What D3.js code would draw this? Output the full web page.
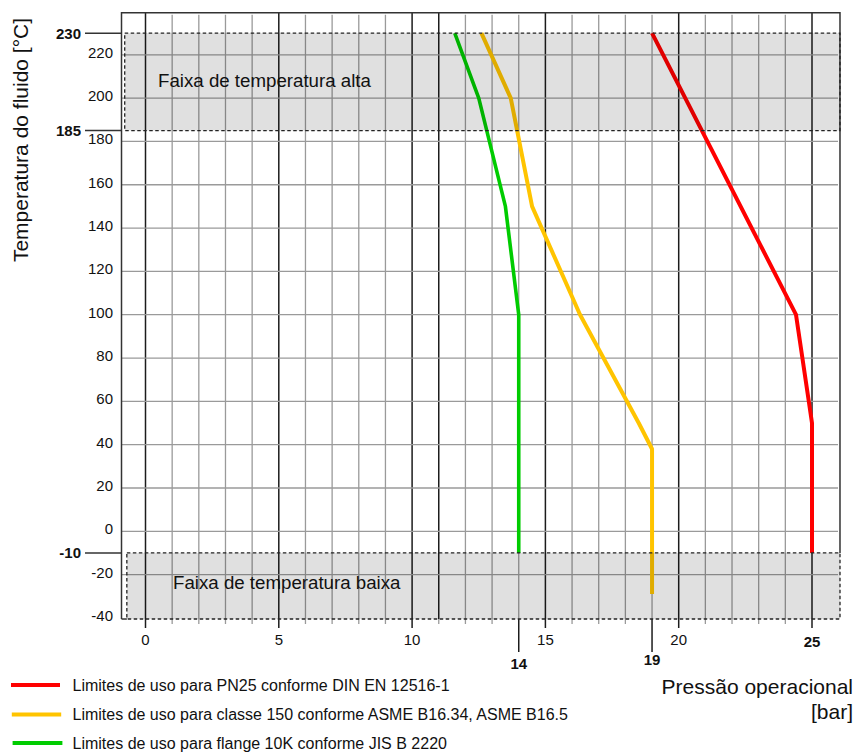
<!DOCTYPE html>
<html>
<head>
<meta charset="utf-8">
<script src="https://cdn.jsdelivr.net/npm/d3@7"></script>
<style>
  html, body { margin: 0; padding: 0; background: #fff; }
  svg { display: block; font-family: "Liberation Sans", Arial, Helvetica, sans-serif; }
</style>
</head>
<body>
<svg id="chart" width="855" height="752"></svg>
<script>
// Pressure / temperature limits per standard: [pressure bar, temperature °C]
const pn25Pressure   = [25, 25, 24.4, 19];
const pn25Temp       = [-10, 50, 100, 230];
const asmePressure   = [19, 19, 18.5, 16.3, 14.5, 13.7, 12.6];
const asmeTemp       = [-29, 38, 50, 100, 150, 200, 230];
const jisPressure    = [14, 14, 13.5, 12.5, 11.6];
const jisTemp        = [-10, 100, 150, 200, 230];

const seriesNames = [
  "Limites de uso para PN25 conforme DIN EN 12516-1",
  "Limites de uso para classe 150 conforme ASME B16.34, ASME B16.5",
  "Limites de uso para flange 10K conforme JIS B 2220"
];
const seriesColors = ["#ff0000", "#ffc400", "#00cc00"];

const xTicks = [0, 5, 10, 15, 20];
const xBoldTicks = [25];
const xMarkers = [14, 19];
const xDarkLines = [0, 5, 10, 11, 15, 20, 25];
const yTicks = [-40, -20, 0, 20, 40, 60, 80, 100, 120, 140, 160, 180, 200, 220];
const yGrid = [-20, 0, 20, 40, 60, 80, 100, 120, 140, 160, 180, 200, 220];
const yBoldTicks = [230, 185, -10];

const highBand = [185, 230];
const lowBand = [-40.5, -10];
const highBandLabel = "Faixa de temperatura alta";
const lowBandLabel = "Faixa de temperatura baixa";

const svg = d3.select("#chart");
const x = d3.scaleLinear().domain([0, 25]).range([145.5, 812]);
const y = d3.scaleLinear().domain([0, 220]).range([531.3, 54.8]);

const xMin = -0.9, xMax = 26.05, yTop = 239.4, yBottom = -40.5;
const frameL = x(xMin), frameR = x(xMax), frameT = y(yTop), frameB = y(yBottom);

// Grid: vertical lines every 1 bar
const g = svg.append("g");
d3.range(0, 26).forEach(v => {
  const dark = xDarkLines.includes(v);
  g.append("line")
    .attr("x1", x(v)).attr("x2", x(v))
    .attr("y1", frameT + (dark ? 0 : 2)).attr("y2", frameB)
    .attr("stroke", dark ? "#1c1c1c" : "#9a9a9a")
    .attr("stroke-width", dark ? 1.5 : 1.3);
  // tick below the plot
  const major = v % 5 === 0;
  const marker = xMarkers.includes(v);
  g.append("line")
    .attr("x1", x(v)).attr("x2", x(v))
    .attr("y1", frameB).attr("y2", frameB + (marker ? 33 : major ? 9 : 5))
    .attr("stroke", marker || major ? "#1c1c1c" : "#9a9a9a")
    .attr("stroke-width", marker || major ? 1.5 : 1.3);
});

// Horizontal grid lines
yGrid.forEach(v => {
  g.append("line")
    .attr("x1", frameL).attr("x2", frameR - 2)
    .attr("y1", y(v)).attr("y2", y(v))
    .attr("stroke", "#9a9a9a").attr("stroke-width", 1.3);
});

// Frame: top, left, right
g.append("path")
  .attr("d", `M${frameL},${frameB} L${frameL},${frameT} L${frameR},${frameT} L${frameR},${y(-10)}`)
  .attr("fill", "none").attr("stroke", "#333").attr("stroke-width", 1.5);
g.append("line")
  .attr("x1", frameL).attr("x2", x(-0.7))
  .attr("y1", frameB).attr("y2", frameB)
  .attr("stroke", "#333").attr("stroke-width", 1.5);

// Y tick labels (drawn before the leader lines so the 185 line crosses "180")
yTicks.forEach(v => {
  svg.append("text")
    .attr("x", 113).attr("y", y(v) + 3)
    .attr("text-anchor", "end").attr("font-size", 15).attr("fill", "#111")
    .text(v);
});

// Leader lines for the band limits
yBoldTicks.forEach(v => {
  svg.append("line")
    .attr("x1", 85).attr("x2", frameL)
    .attr("y1", y(v)).attr("y2", y(v))
    .attr("stroke", "#333").attr("stroke-width", 1.5);
});

// Limit curves
const line = d3.line().x(d => x(d[0])).y(d => y(d[1]));
const series = [
  d3.zip(pn25Pressure, pn25Temp),
  d3.zip(asmePressure, asmeTemp),
  d3.zip(jisPressure, jisTemp)
];
series.forEach((s, i) => {
  svg.append("path")
    .datum(s)
    .attr("d", line)
    .attr("fill", "none")
    .attr("stroke", seriesColors[i])
    .attr("stroke-width", i === 2 ? 3.6 : 4)
    .attr("stroke-linejoin", "round");
});

// Temperature bands (translucent grey over grid and curves)
function band(x0, range) {
  svg.append("rect")
    .attr("x", x(x0)).attr("y", y(range[1]))
    .attr("width", frameR - x(x0)).attr("height", y(range[0]) - y(range[1]))
    .attr("fill", "#000").attr("fill-opacity", 0.12)
    .attr("stroke", "#222").attr("stroke-width", 1.3)
    .attr("stroke-dasharray", "3.5,2.5");
}
band(-0.78, highBand);
band(-0.7, lowBand);

svg.append("text").attr("x", 158).attr("y", 86.5)
  .attr("font-size", 18.7).attr("fill", "#111").text(highBandLabel);
svg.append("text").attr("x", 173).attr("y", 588.5)
  .attr("font-size", 18.7).attr("fill", "#111").text(lowBandLabel);

yBoldTicks.forEach(v => {
  svg.append("text")
    .attr("x", 81).attr("y", y(v) + 5.5)
    .attr("text-anchor", "end").attr("font-size", 15)
    .attr("font-weight", "bold").attr("fill", "#111")
    .text(v);
});

// X tick labels
xTicks.forEach(v => {
  svg.append("text")
    .attr("x", x(v)).attr("y", 645)
    .attr("text-anchor", "middle").attr("font-size", 15).attr("fill", "#111")
    .text(v);
});
xBoldTicks.forEach(v => {
  svg.append("text")
    .attr("x", x(v)).attr("y", 647)
    .attr("text-anchor", "middle").attr("font-size", 15)
    .attr("font-weight", "bold").attr("fill", "#111")
    .text(v);
});
const markerBaselines = [668.5, 664.5];
xMarkers.forEach((v, i) => {
  svg.append("text")
    .attr("x", x(v)).attr("y", markerBaselines[i])
    .attr("text-anchor", "middle").attr("font-size", 15)
    .attr("font-weight", "bold").attr("fill", "#111")
    .text(v);
});

// Axis titles
svg.append("text")
  .attr("transform", "translate(28,140) rotate(-90)")
  .attr("text-anchor", "middle").attr("font-size", 21).attr("fill", "#111")
  .text("Temperatura do fluido [°C]");
svg.append("text").attr("x", 853).attr("y", 693.5)
  .attr("text-anchor", "end").attr("font-size", 21).attr("fill", "#111")
  .text("Pressão operacional");
svg.append("text").attr("x", 853).attr("y", 719)
  .attr("text-anchor", "end").attr("font-size", 21).attr("fill", "#111")
  .text("[bar]");

// Legend
const legendY = [685, 714.5, 743];
seriesNames.forEach((name, i) => {
  svg.append("line")
    .attr("x1", 11 + i * 0.8).attr("x2", 60 + i * 1.2)
    .attr("y1", legendY[i]).attr("y2", legendY[i])
    .attr("stroke", seriesColors[i]).attr("stroke-width", 4);
  svg.append("text")
    .attr("x", 72.5).attr("y", legendY[i] + 5.5)
    .attr("font-size", 16).attr("fill", "#111")
    .text(name);
});
</script>
</body>
</html>
